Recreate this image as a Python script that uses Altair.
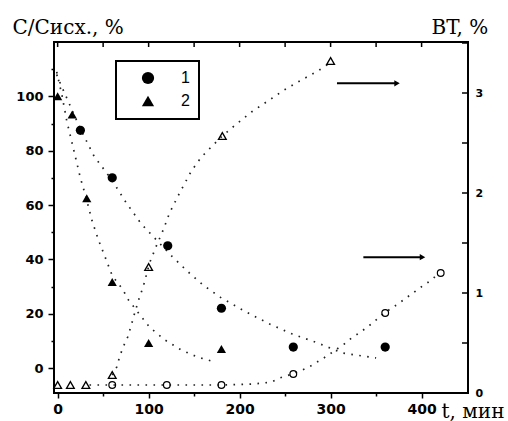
import altair as alt
import pandas as pd

# ---------------- data ----------------
# series 1 (filled circles), C/C0, %
t1 = [25, 60, 121, 180, 259, 360]
c1 = [87.5, 70, 45, 22, 7.7, 7.7]
# series 2 (filled triangles), C/C0, %
t2 = [0, 16, 32, 60, 100, 180]
c2 = [100, 93.3, 62.5, 31.7, 9.2, 7]
# BT, % (open triangles, series 2)
bt2_t = [0, 14, 31, 60, 100, 181, 300]
bt2_v = [0.08, 0.08, 0.08, 0.18, 1.26, 2.57, 3.32]
# BT, % (open circles, series 1)
bt1_t = [60, 120, 180, 259, 360, 421]
bt1_v = [0.08, 0.08, 0.08, 0.19, 0.8, 1.2]

# dotted fitted curves
curveA_t = [-1, 0, 25, 40, 60, 75, 92, 109, 126, 143, 160, 179, 205, 233, 258, 286, 313, 350]
curveA_c = [108, 107, 88, 78, 69, 61, 53, 47, 41, 35.5, 30.5, 26, 21, 16.2, 12.5, 9.2, 5.5, 3.7]
curveB_t = [-1, 5, 10, 15, 20, 25, 31, 38, 45, 52, 60, 72, 77, 83, 101, 118, 136, 154, 173]
curveB_c = [109, 100, 91, 84, 77, 70, 63, 54, 47, 41, 34, 28.7, 25.4, 22.8, 15, 10.3, 6.6, 4, 2.2]
curveC_t = [60, 65, 68, 72, 77, 81, 85, 90, 94, 101, 108, 116, 123, 134, 147, 158, 171, 181,
            194, 213, 231, 249, 268, 286, 301]
curveC_v = [0.18, 0.26, 0.36, 0.46, 0.56, 0.68, 0.81, 0.96, 1.06, 1.3, 1.46, 1.63, 1.8, 2.0,
            2.22, 2.36, 2.48, 2.57, 2.67, 2.81, 2.92, 3.03, 3.13, 3.22, 3.31]
curveD_t = [35, 60, 120, 180, 216, 226, 235, 244, 258, 269, 278, 287, 296, 315, 323, 333, 342,
            359, 374, 383, 392, 401, 411, 419]
curveD_v = [0.08, 0.08, 0.08, 0.08, 0.09, 0.1, 0.11, 0.15, 0.19, 0.23, 0.27, 0.32, 0.37, 0.49,
            0.55, 0.61, 0.67, 0.8, 0.89, 0.95, 1.01, 1.07, 1.13, 1.2]

# arrows (start t, end t, level on left scale)
arrow_t1 = [307, 336]
arrow_t2 = [373, 401]
arrow_y = [104.8, 40.8]

left_ticks = list(range(0, 120, 10))
bottom_ticks = list(range(0, 450, 50))
top_ticks = list(range(0, 450, 50))
right_ticks = [0.5, 1, 1.5, 2, 2.5, 3, 3.5]
right_labels = [0, 1, 2, 3]

# ---------------- tables ----------------
df_f = pd.DataFrame({"t": t1 + t2, "c": c1 + c2,
                     "s": ["1"] * len(t1) + ["2"] * len(t2)})
df_lc = pd.DataFrame({"t": curveA_t + curveB_t, "c": curveA_c + curveB_c,
                      "k": ["A"] * len(curveA_t) + ["B"] * len(curveB_t)})
df_rc = pd.DataFrame({"t": curveC_t + curveD_t, "v": curveC_v + curveD_v,
                      "k": ["C"] * len(curveC_t) + ["D"] * len(curveD_t)})
df_ot = pd.DataFrame({"t": bt2_t, "v": bt2_v})
df_oc = pd.DataFrame({"t": bt1_t, "v": bt1_v})
df_ar = pd.DataFrame({"t": arrow_t1, "t2": arrow_t2, "y": arrow_y})
df_ah = pd.DataFrame({"t": arrow_t2, "y": arrow_y})
df_tt = pd.DataFrame({"t": top_ticks})
df_rt = pd.DataFrame({"v": right_ticks})

W, H = 414, 351
xs = alt.Scale(domain=[-4, 451], nice=False, zero=False)
ysL = alt.Scale(domain=[-9.2, 120], nice=False, zero=False)
ysR = alt.Scale(domain=[0, 3.51], nice=False, zero=False)

x_axis = alt.Axis(orient="bottom", values=bottom_ticks, grid=False, domain=False,
                  labelExpr="datum.value % 100 == 0 ? datum.label : ''",
                  tickSize={"condition": {"test": "datum.value % 100 == 0", "value": 5}, "value": 3},
                  tickColor="black", tickWidth=1.5, labelPadding=4,
                  labelFont="DejaVu Sans", labelFontWeight="bold", labelFontSize=14,
                  labelColor="black", labelFlush=False,
                  title="t, мин", titleAngle=0, titleX=387, titleY=24, titleAlign="left",
                  titleBaseline="alphabetic", titleFont="DejaVu Serif", titleFontSize=20,
                  titleFontWeight="normal", titleColor="black")
yL_axis = alt.Axis(orient="left", values=left_ticks, grid=False, domain=False,
                   labelExpr="datum.value % 20 == 0 ? datum.label : ''",
                   tickSize={"condition": {"test": "datum.value % 20 == 0", "value": 6}, "value": 3},
                   tickColor="black", tickWidth=1.5, labelPadding=5,
                   labelFont="DejaVu Sans", labelFontWeight="bold", labelFontSize=13,
                   labelColor="black",
                   title="C/Cисх., %", titleAngle=0, titleX=-42, titleY=-9, titleAlign="left",
                   titleBaseline="alphabetic", titleFont="DejaVu Serif", titleFontSize=20,
                   titleFontWeight="normal", titleColor="black")
yR_axis = alt.Axis(orient="right", values=right_labels, grid=False, domain=False, ticks=False,
                   labelPadding=7, labelFont="DejaVu Sans", labelFontWeight="bold",
                   labelFontSize=11, labelColor="black",
                   title="BT, %", titleAngle=0, titleX=-37, titleY=-9, titleAlign="left",
                   titleBaseline="alphabetic", titleFont="DejaVu Serif", titleFontSize=20,
                   titleFontWeight="normal", titleColor="black")

dot = dict(strokeDash=[1.6, 6.4], strokeWidth=1.7, color="#222", strokeCap="butt")


def X(field="t"):
    return alt.X(f"{field}:Q", scale=xs, axis=x_axis, title="t, мин")


# ---------------- left-scale layers ----------------
curves_L = alt.Chart(df_lc).mark_line(**dot).encode(
    x=X(), y=alt.Y("c:Q", scale=ysL, axis=yL_axis),
    detail="k:N", order="t:Q")

filled = alt.Chart(df_f).mark_point(filled=True, opacity=1, color="black", size=85).encode(
    x=X(), y=alt.Y("c:Q", scale=ysL, axis=None),
    shape=alt.Shape("s:N", scale=alt.Scale(domain=["1", "2"], range=["circle", "triangle-up"]),
                    legend=alt.Legend(title=None, orient="none", legendX=62, legendY=19,
                                      strokeColor="black", padding=9, symbolSize=150,
                                      symbolOffset=15, labelOffset=25, rowPadding=4,
                                      labelFont="Liberation Sans", labelFontSize=16,
                                      labelColor="black", symbolFillColor="black",
                                      symbolStrokeColor="black")))

arrows = alt.Chart(df_ar).mark_rule(color="black", strokeWidth=2).encode(
    x=X(), x2="t2:Q", y=alt.Y("y:Q", scale=ysL, axis=None))
heads = alt.Chart(df_ah).mark_point(shape="triangle-right", filled=True, opacity=1,
                                    color="black", size=40).encode(
    x=X(), y=alt.Y("y:Q", scale=ysL, axis=None))

top_t = alt.Chart(df_tt).mark_rule(color="black", strokeWidth=1.5).encode(
    x=X(), y=alt.value(0), y2=alt.value(5))

# ---------------- right-scale layers ----------------
curves_R = alt.Chart(df_rc).mark_line(**dot).encode(
    x=X(), y=alt.Y("v:Q", scale=ysR, axis=yR_axis),
    detail="k:N", order="t:Q")
open_tri = alt.Chart(df_ot).mark_point(shape="triangle-up", filled=False, color="black",
                                       size=60, strokeWidth=1.3, opacity=1).encode(
    x=X(), y=alt.Y("v:Q", scale=ysR, axis=None))
open_circ = alt.Chart(df_oc).mark_point(shape="circle", filled=False, color="black",
                                        size=45, strokeWidth=1.2, opacity=1).encode(
    x=X(), y=alt.Y("v:Q", scale=ysR, axis=None))
right_t = alt.Chart(df_rt).mark_rule(color="black", strokeWidth=1.5).encode(
    y=alt.Y("v:Q", scale=ysR, axis=None), x=alt.value(W - 6), x2=alt.value(W))

chart = alt.layer(curves_L, curves_R, arrows, heads, top_t, right_t,
                  open_tri, open_circ, filled).resolve_scale(y="independent").properties(
    width=W, height=H,
    autosize=alt.AutoSizeParams(type="none"),
    padding={"left": 54, "top": 42, "right": 40, "bottom": 28},
    background="white",
).configure_view(stroke="black", strokeWidth=2).configure_legend(strokeWidth=2)

chart.save("out.html", embed_options={"renderer": "svg", "actions": False})
